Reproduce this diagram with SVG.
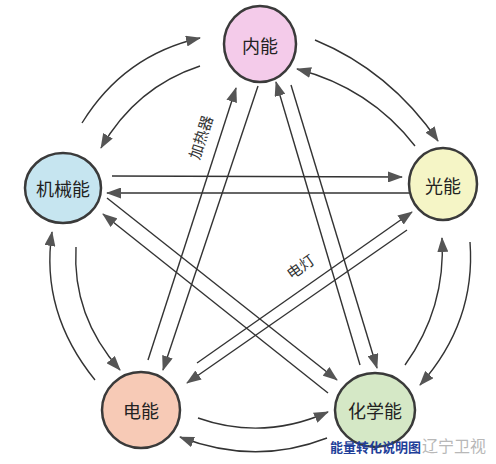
<svg xmlns="http://www.w3.org/2000/svg" width="496" height="464" viewBox="0 0 496 464">
<style>
.node{stroke:#3a3a3a;stroke-width:2.5}
.lbl{font-family:"Noto Sans CJK SC","Noto Sans CJK JP",sans-serif;font-size:18px;fill:#222;text-anchor:middle;dominant-baseline:central}
.note{font-family:"Noto Sans CJK SC","Noto Sans CJK JP",sans-serif;font-size:15px;fill:#333;text-anchor:middle;dominant-baseline:central}
.c{fill:none;stroke:#333;stroke-width:1.4;marker-end:url(#ah)}
</style>
<defs>
<marker id="ah" viewBox="0 0 15 11" refX="14" refY="5.5" markerWidth="15" markerHeight="11" markerUnits="userSpaceOnUse" orient="auto">
<path d="M0,0 L15,5.5 L0,11 z" fill="#555"/>
</marker>
</defs>
<rect width="496" height="464" fill="#ffffff"/>
<g id="connectors">
<path class="c" d="M82,123 Q124,55 200,38"/>
<path class="c" d="M200,66 Q136,87 101,148"/>
<path class="c" d="M315,40 Q390,71 438,141"/>
<path class="c" d="M415,146 Q370,88 297,69"/>
<path class="c" d="M95,380 Q40,312 52,232"/>
<path class="c" d="M76,247 Q72,316 120,370"/>
<path class="c" d="M405,365 Q446,308 442,238"/>
<path class="c" d="M470,242 Q476,322 420,385"/>
<path class="c" d="M198,418 Q263,441 328,412"/>
<path class="c" d="M327,438 Q255,466 180,437"/>
<path class="c" d="M112,176 L402,177"/>
<path class="c" d="M412,193 L107,193"/>
<path class="c" d="M148,360 L236,88"/>
<path class="c" d="M258,86 L163,370"/>
<path class="c" d="M360,365 L276,82"/>
<path class="c" d="M291,85 L377,368"/>
<path class="c" d="M107,198 L337,380"/>
<path class="c" d="M328,393 L103,214"/>
<path class="c" d="M197,363 L412,212"/>
<path class="c" d="M407,230 L187,383"/>
<text class="note" transform="translate(200,137) rotate(-72)">加热器</text>
<text class="note" transform="translate(300,266) rotate(-35)">电灯</text>
</g>
<g id="neineng"><ellipse class="node" cx="260" cy="44" rx="36" ry="38" fill="#f4cbea"/><text class="lbl" x="260" y="45">内能</text></g>
<g id="jixieneng"><ellipse class="node" cx="63" cy="188" rx="38" ry="35" fill="#c6e5f0"/><text class="lbl" x="63" y="188">机械能</text></g>
<g id="guangneng"><ellipse class="node" cx="443" cy="184" rx="34" ry="36" fill="#f5f5c6"/><text class="lbl" x="443" y="185">光能</text></g>
<g id="dianneng"><ellipse class="node" cx="141" cy="410" rx="39" ry="38" fill="#f7cab6"/><text class="lbl" x="141" y="410">电能</text></g>
<g id="huaxueneng"><ellipse class="node" cx="375" cy="410" rx="40" ry="37" fill="#d5e8c6"/><text class="lbl" x="375" y="410">化学能</text></g>
<g id="watermark">
<text x="422" y="452" font-family="Noto Sans CJK SC,sans-serif" font-size="16" fill="#b8b8b8">辽宁卫视</text>
<text x="330" y="452" font-family="Noto Sans CJK SC,sans-serif" font-size="13" font-weight="bold" fill="#1f3f99">能量转化说明图</text>
</g>
</svg>
